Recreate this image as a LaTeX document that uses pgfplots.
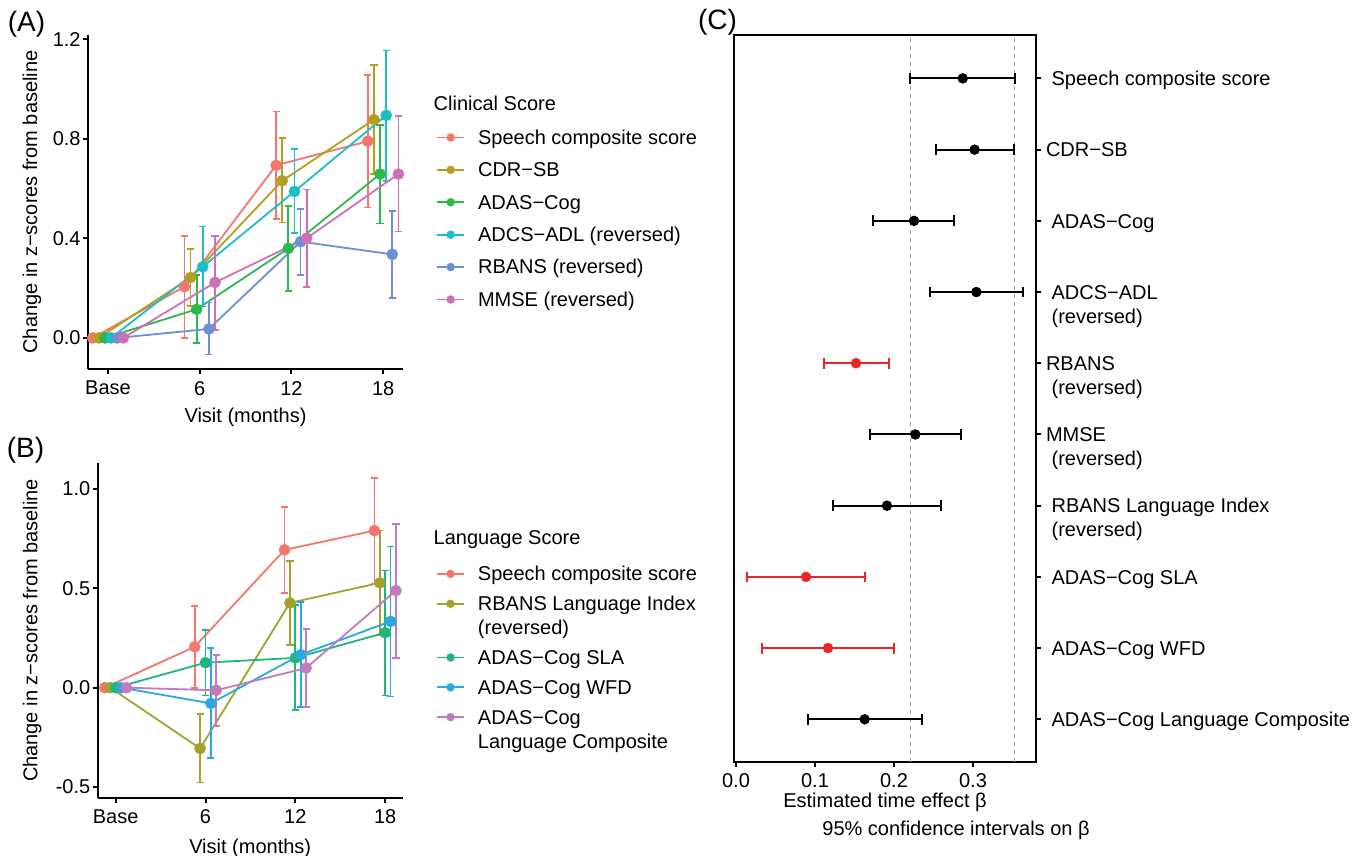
\documentclass[border=0pt]{standalone}
\usepackage{pgfplots}
\pgfplotsset{compat=1.18}
\usepackage{pgfplotstable}
\usepackage{fontspec}
\setmainfont{Liberation Sans}

\definecolor{aSp}{HTML}{F4776E}
\definecolor{aCdr}{HTML}{B59F22}
\definecolor{aAdas}{HTML}{2DB84C}
\definecolor{aAdcs}{HTML}{1CBEC3}
\definecolor{aRb}{HTML}{6C8FD6}
\definecolor{aMm}{HTML}{CF6FB7}
\definecolor{bRl}{HTML}{A2A32E}
\definecolor{bSla}{HTML}{20B57A}
\definecolor{bWfd}{HTML}{2AA9E0}
\definecolor{bComp}{HTML}{C07CBE}
\definecolor{cRed}{HTML}{E8252B}

\newcommand\lsp{\hspace*{0.28em}}
\newcommand\twolines[2]{\vtop{\hbox{\strut#1}\hbox{\strut#2}}}

% panel A: clinical scores (x already dodged)
\pgfplotstableread{
x y lo hi
-1.0 0 0 0
5.0 0.206 0.000 0.411
11.0 0.694 0.478 0.910
17.0 0.791 0.524 1.057
}\aSpeech
\pgfplotstableread{
x y lo hi
-0.6 0 0 0
5.4 0.243 0.129 0.357
11.4 0.632 0.464 0.803
17.4 0.878 0.660 1.097
}\aCDR
\pgfplotstableread{
x y lo hi
-0.2 0 0 0
5.8 0.115 -0.020 0.254
11.8 0.360 0.189 0.529
17.8 0.659 0.460 0.856
}\aADAS
\pgfplotstableread{
x y lo hi
0.2 0 0 0
6.2 0.286 0.126 0.448
12.2 0.589 0.421 0.758
18.2 0.895 0.632 1.156
}\aADCS
\pgfplotstableread{
x y lo hi
0.6 0 0 0
6.6 0.036 -0.067 0.142
12.6 0.387 0.254 0.519
18.6 0.336 0.161 0.510
}\aRBANS
\pgfplotstableread{
x y lo hi
1.0 0 0 0
7.0 0.223 0.032 0.410
13.0 0.401 0.205 0.597
19.0 0.659 0.428 0.891
}\aMMSE

% panel B: language scores
\pgfplotstableread{
x y lo hi
-0.72 0 0 0
5.28 0.206 0.000 0.411
11.28 0.694 0.478 0.910
17.28 0.791 0.524 1.057
}\bSpeech
\pgfplotstableread{
x y lo hi
-0.36 0 0 0
5.64 -0.306 -0.477 -0.134
11.64 0.427 0.215 0.639
17.64 0.528 0.266 0.792
}\bRBL
\pgfplotstableread{
x y lo hi
0 0 0 0
6 0.126 -0.039 0.289
12 0.150 -0.111 0.415
18 0.277 -0.039 0.590
}\bSLA
\pgfplotstableread{
x y lo hi
0.36 0 0 0
6.36 -0.079 -0.356 0.198
12.36 0.166 -0.099 0.432
18.36 0.334 -0.044 0.711
}\bWFD
\pgfplotstableread{
x y lo hi
0.72 0 0 0
6.72 -0.013 -0.193 0.165
12.72 0.099 -0.099 0.294
18.72 0.489 0.150 0.825
}\bComp

% panel C: time effect beta with 95% CI (row 10 = top)
\pgfplotstableread{
row b lo hi
10 0.287 0.2207 0.3527
9 0.302 0.2527 0.3520
8 0.2253 0.1734 0.2764
7 0.3042 0.2456 0.3629
5 0.227 0.1696 0.2848
4 0.1911 0.1224 0.2599
1 0.1629 0.0907 0.2354
}\cBlack
\pgfplotstableread{
row b lo hi
6 0.1519 0.1110 0.1932
3 0.0886 0.0143 0.1629
2 0.1165 0.0329 0.2000
}\cRedTab

\pgfplotsset{
  trend/.style={color=#1, line width=0.9pt, mark=*, mark size=2.8pt,
    mark options={solid, fill=#1, draw=#1, line width=0.2pt},
    error bars/.cd, y dir=both, y explicit,
    error bar style={line width=0.9pt, color=#1},
    error mark options={rotate=90, mark size=1.8pt, line width=0.9pt, color=#1}},
  panel/.style={
    scale only axis, anchor=south west,
    axis x line*=bottom, axis y line*=left,
    axis line style={line width=1pt, -},
    xtick pos=bottom, ytick pos=left,
    tick align=outside, major tick length=2.5pt,
    tick style={line width=1pt, black},
    xtick={0,6,12,18}, xticklabels={Base,6,12,18},
    yticklabel style={inner xsep=1pt},
    xlabel={Visit (months)},
    ylabel={Change in z−scores from baseline},
    legend image code/.code={
      \draw[##1, line width=0.9pt, mark size=2pt, mark repeat=2, mark phase=2]
        plot coordinates {(0pt,0pt) (6.65pt,0pt) (13.3pt,0pt)};},
  },
  every axis/.append style={font=\fontsize{10}{12}\selectfont},
}

\newcommand\plotci[3][]{\addplot[#1, trend=#2] table[x=x, y=y,
  y error plus expr=\thisrow{hi}-\thisrow{y},
  y error minus expr=\thisrow{y}-\thisrow{lo}] {#3};}

\begin{document}
\begin{tikzpicture}[font=\fontsize{10}{12}\selectfont]
\useasboundingbox (0pt,0pt) rectangle (683.5pt,428pt);

% ---------------- (A)
\begin{axis}[panel,
  at={(44pt,243.5pt)}, width=157.5pt, height=167pt,
  xmin=-1.31, xmax=19.3, ymin=-0.125, ymax=1.218,
  ytick={0,0.4,0.8,1.2}, yticklabels={0.0,0.4,0.8,1.2},
  xlabel style={at={(axis description cs:0.5,-0.144)}, anchor=center},
  ylabel style={at={(axis description cs:-0.178,0.5)}, anchor=center},
  legend style={draw=none, fill=none, at={(1.105,0.724)}, anchor=north west,
    inner sep=0pt, row sep=6.3pt, column sep=6.6pt,
    nodes={inner sep=0pt}, cells={anchor=west, align=left}},
]
\plotci{aSp}{\aSpeech}
\addlegendentry{\strut Speech composite score}
\plotci{aCdr}{\aCDR}
\addlegendentry{\strut CDR−SB}
\plotci{aAdas}{\aADAS}
\addlegendentry{\strut ADAS−Cog}
\plotci{aAdcs}{\aADCS}
\addlegendentry{\strut ADCS−ADL (reversed)}
\plotci{aRb}{\aRBANS}
\addlegendentry{\strut RBANS (reversed)}
\plotci{aMm}{\aMMSE}
\addlegendentry{\strut MMSE (reversed)}
\end{axis}

% ---------------- (B)
\begin{axis}[panel,
  at={(48.85pt,29.15pt)}, width=152.5pt, height=167.2pt,
  xmin=-1.2, xmax=19.17, ymin=-0.554, ymax=1.13,
  ytick={-0.5,0,0.5,1}, yticklabels={-0.5,0.0,0.5,1.0},
  xlabel style={at={(axis description cs:0.5,-0.152)}, anchor=center},
  ylabel style={at={(axis description cs:-0.2144,0.5)}, anchor=center},
  legend style={draw=none, fill=none, at={(1.109,0.70)}, anchor=north west,
    inner sep=0pt, row sep=5pt, column sep=6.6pt,
    nodes={inner sep=0pt}, cells={anchor=west, align=left}},
]
\plotci{aSp}{\bSpeech}
\addlegendentry{\strut Speech composite score}
\plotci[legend image post style={yshift=6pt}]{bRl}{\bRBL}
\addlegendentry{\strut RBANS Language Index\\\strut(reversed)}
\plotci{bSla}{\bSLA}
\addlegendentry{\strut ADAS−Cog SLA}
\plotci{bWfd}{\bWFD}
\addlegendentry{\strut ADAS−Cog WFD}
\plotci[legend image post style={yshift=6pt}]{bComp}{\bComp}
\addlegendentry{\strut ADAS−Cog\\\strut Language Composite}
\end{axis}

% ---------------- (C)
\begin{axis}[
  scale only axis, anchor=south west,
  at={(367pt,47.15pt)}, width=151pt, height=363.35pt,
  xmin=-0.0025, xmax=0.3797, ymin=0.405, ymax=10.61,
  axis line style={line width=1pt},
  xtick pos=bottom, ytick pos=right,
  tick align=outside, major tick length=2.5pt,
  tick style={line width=1pt, black},
  xtick={0,0.1,0.2,0.3}, xticklabels={0.0,0.1,0.2,0.3},
  ytick={1,2,3,4,5,6,7,8,9,10},
  yticklabels={
    \lsp ADAS−Cog Language Composite,
    \lsp ADAS−Cog WFD,
    \lsp ADAS−Cog SLA,
    {\twolines{\lsp RBANS Language Index}{\lsp(reversed)}},
    {\twolines{MMSE}{\lsp(reversed)}},
    {\twolines{RBANS}{\lsp(reversed)}},
    {\twolines{\lsp ADCS−ADL}{\lsp(reversed)}},
    \lsp ADAS−Cog,
    CDR−SB,
    \lsp Speech composite score},
  yticklabel style={anchor=base west, yshift=-3.6pt,
    inner xsep=2.3pt, inner ysep=0pt},
  xlabel={Estimated time effect β},
  xlabel style={at={(axis description cs:0.5,-0.0555)}, anchor=center},
]
\addplot[gray!70, line width=0.6pt, dash pattern=on 2pt off 2pt]
  coordinates {(0.2207,0.405) (0.2207,10.61)};
\addplot[gray!70, line width=0.6pt, dash pattern=on 2pt off 2pt]
  coordinates {(0.3527,0.405) (0.3527,10.61)};
\addplot[only marks, black, mark=*, mark size=2.4pt,
  error bars/.cd, x dir=both, x explicit,
  error bar style={line width=1pt, black},
  error mark options={rotate=90, mark size=2.7pt, line width=1pt, black}]
  table[x=b, y=row, x error plus expr=\thisrow{hi}-\thisrow{b},
        x error minus expr=\thisrow{b}-\thisrow{lo}] {\cBlack};
\addplot[only marks, cRed, mark=*, mark size=2.4pt,
  error bars/.cd, x dir=both, x explicit,
  error bar style={line width=1pt, cRed},
  error mark options={rotate=90, mark size=2.7pt, line width=1pt, cRed}]
  table[x=b, y=row, x error plus expr=\thisrow{hi}-\thisrow{b},
        x error minus expr=\thisrow{b}-\thisrow{lo}] {\cRedTab};
\end{axis}

% titles and panel letters
\node[anchor=west, inner sep=0pt] at (216.65pt,376.35pt) {Clinical Score};
\node[anchor=west, inner sep=0pt] at (216.65pt,158pt) {Language Score};
\node[font=\fontsize{14}{16}\selectfont] at (13.25pt,416pt) {(A)};
\node[font=\fontsize{14}{16}\selectfont] at (12.75pt,203pt) {(B)};
\node[font=\fontsize{14}{16}\selectfont] at (358.75pt,417pt) {(C)};
\node at (478pt,13pt) {95\% confidence intervals on β};
\end{tikzpicture}
\end{document}
